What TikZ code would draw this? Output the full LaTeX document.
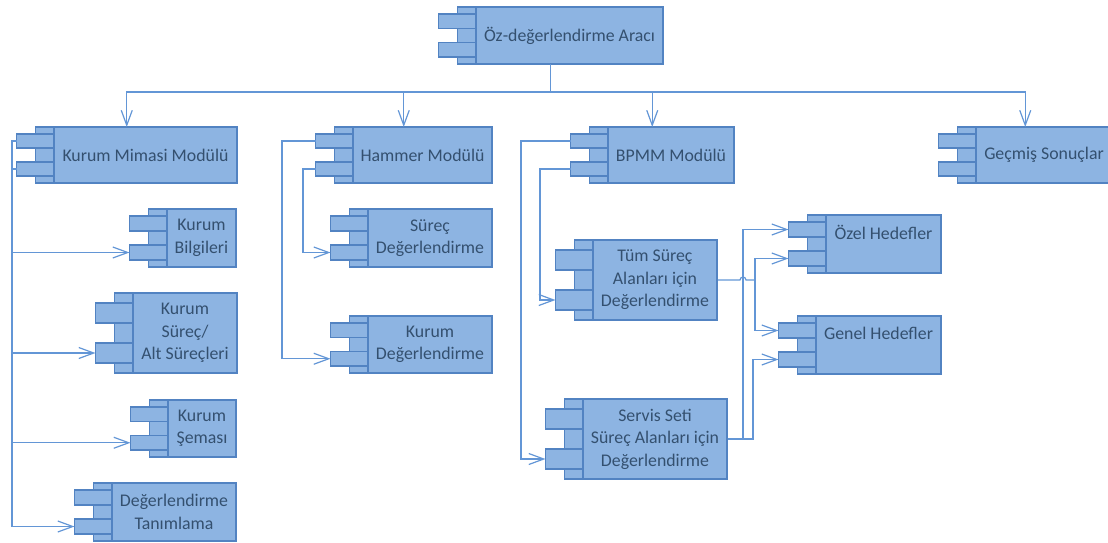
\documentclass[tikz,border=0pt]{standalone}
\usepackage{fontspec}
\setmainfont{Carlito}
\usetikzlibrary{arrows.meta,calc}
\definecolor{compfill}{HTML}{8DB4E2}
\definecolor{compline}{HTML}{5283C2}
\definecolor{wire}{HTML}{6396D6}
\definecolor{comptext}{HTML}{34506F}
\tikzset{
  part/.style={draw=compline,fill=compfill,line width=1.6pt},
  body/.style={part,inner sep=0pt,align=center,text=comptext,
    font=\fontsize{17.8}{22.5}\selectfont},
  conn/.style={draw=wire,line width=1.2pt},
  arr/.style={-{Straight Barb[length=15pt,width=11pt,line width=1.2pt]}},
}
% \comp[style]{name}{body left}{top}{right}{bottom}{text}
% draws a UML component: body box, side strip and two tabs
\newcommand\comp[7][]{%
  \pgfmathsetmacro\cw{#5-#3}\pgfmathsetmacro\ch{#6-#4}%
  \draw[part] (#3-18.5,#4) rectangle (#3,#6);
  \draw[part] (#3-37.5,#4+\ch/8) rectangle (#3,#4+3*\ch/8);
  \draw[part] (#3-37.5,#4+5*\ch/8) rectangle (#3,#4+7*\ch/8);
  \node[body,#1,minimum width=\cw pt,minimum height=\ch pt] (#2)
    at ({(#3+#5)/2},{(#4+#6)/2}) {#7};
  \coordinate (#2-a) at (#3-37.5,#4+\ch/4);
  \coordinate (#2-b) at (#3-37.5,#4+3*\ch/4);
  \coordinate (#2-n) at ({(#3-37.5+#5)/2},#4);
  \coordinate (#2-s) at ({(#3-37.5+#5)/2},#6);
}
\begin{document}
\begin{tikzpicture}[x=1pt,y=-1pt]
\useasboundingbox (0,0) rectangle (1108,542);

\comp{oz}{476}{7}{663}{64}{Öz-değerlendirme Aracı}
\comp{kmm}{54}{127}{237}{183}{Kurum Mimasi Modülü}
\comp{kb}{167}{209}{236}{267}{Kurum\\Bilgileri}
\comp{ks}{133}{293}{237}{373}{Kurum\\Süreç/\\Alt Süreçleri}
\comp{ksm}{168}{400}{236}{457}{Kurum\\Şeması}
\comp{dt}{112}{483}{236}{541}{Değerlendirme\\Tanımlama}
\comp{hm}{353}{127}{492}{183}{Hammer Modülü}
\comp{sd}{368}{209}{492}{267}{Süreç\\Değerlendirme}
\comp{kd}{368}{316}{492}{373}{Kurum\\Değerlendirme}
\comp{bp}{608}{127}{734}{183}{BPMM Modülü}
\comp{ts}{593}{240}{717}{320}{Tüm Süreç\\Alanları için\\Değerlendirme}
\comp{ss}{583}{399}{727}{479}{Servis Seti\\Süreç Alanları için\\Değerlendirme}
\comp{oh}{826}{215}{941}{273}{Özel Hedefler\\\mbox{}}
\comp{gh}{816}{316}{941}{374}{Genel Hedefler\\\mbox{}}
\comp{gs}{976}{127}{1112}{183}{Geçmiş Sonuçlar}

% top-level bus
\coordinate (bus) at (550.75,92);
\draw[conn] (oz-s) -- (bus);
\foreach \t in {kmm,hm,bp,gs}
  \draw[conn,arr] (bus) -| (\t-n);

% trunk lines on the left of each module
\coordinate (kt) at (12,0);
\coordinate (ht1) at (282,0);
\coordinate (ht2) at (303,0);
\coordinate (bt1) at (521,0);
\coordinate (bt2) at (540,0);

\draw[conn,arr] (kmm-a) -- (kmm-a -| kt) |- (kb-b);
\draw[conn,arr] (kmm-a) -- (kmm-a -| kt) |- (dt-b);
\draw[conn,arr] (kmm-b) -- (kmm-b -| kt) |- (ks-b);
\draw[conn,arr] (kmm-b) -- (kmm-b -| kt) |- (ksm-b);

\draw[conn,arr] (hm-a) -- (hm-a -| ht1) |- (kd-b);
\draw[conn,arr] (hm-b) -- (hm-b -| ht2) |- (sd-b);

\draw[conn,arr] (bp-a) -- (bp-a -| bt1) |- (ss-b);
\draw[conn,arr] (bp-b) -- (bp-b -| bt2) |- (ts-b);

% goal links
\coordinate (va) at (743,0);
\coordinate (vb) at (755,0);
\coordinate (vc) at (753,0);
\draw[conn] (ts.east) -- ($(ts.east -| va)+(-3pt,0)$)
  arc[start angle=180,end angle=0,radius=3pt] -- (ts.east -| vb);
\draw[conn,arr] (ts.east -| vb) |- (oh-b);
\draw[conn,arr] (ts.east -| vb) |- (gh-a);
\draw[conn,arr] (ss.east) -- (ss.east -| va) |- (oh-a);
\draw[conn,arr] (ss.east) -- (ss.east -| vc) |- (gh-b);
\end{tikzpicture}
\end{document}
